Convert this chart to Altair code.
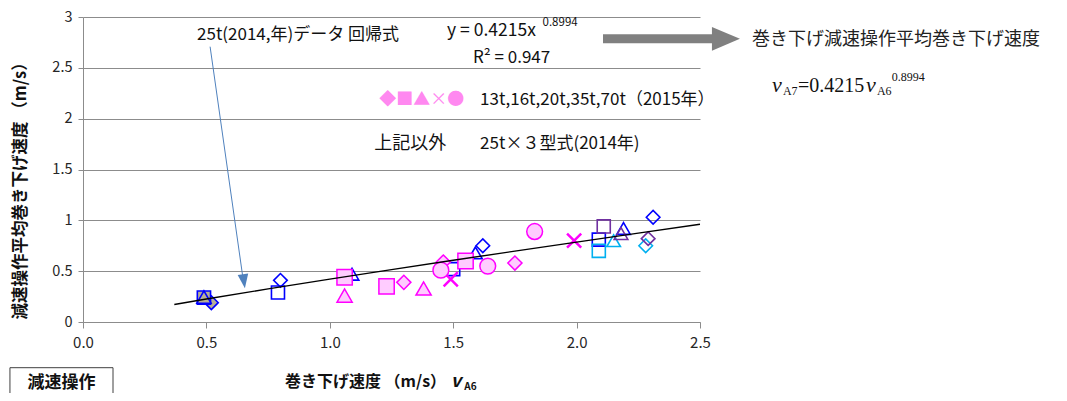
import altair as alt
import pandas as pd

# ---------------- data ----------------
# 25t x 3 models (2014) - three series (blue, light blue, purple) + overlapped tan points
tan_diamond_x = [0.52]
tan_diamond_y = [0.19]
tan_square_x = [0.49]
tan_square_y = [0.24]
tan_triangle_x = [0.49]
tan_triangle_y = [0.245]

blue_diamond_x = [0.80, 1.62, 2.31]
blue_diamond_y = [0.41, 0.75, 1.03]
blue_square_x = [0.79, 1.50, 2.09]
blue_square_y = [0.29, 0.52, 0.81]
blue_triangle_x = [1.09, 1.59, 2.19]
blue_triangle_y = [0.47, 0.68, 0.92]

cyan_diamond_x = [2.28]
cyan_diamond_y = [0.75]
cyan_square_x = [2.09]
cyan_square_y = [0.70]
cyan_triangle_x = [2.15]
cyan_triangle_y = [0.80]

purple_diamond_x = [2.29]
purple_diamond_y = [0.82]
purple_square_x = [2.11]
purple_square_y = [0.94]
purple_triangle_x = [2.18]
purple_triangle_y = [0.87]

# 13t,16t,20t,35t,70t (2015)
pink_diamond_x = [1.30, 1.46, 1.75]
pink_diamond_y = [0.39, 0.59, 0.58]
pink_square_x = [1.06, 1.23, 1.55]
pink_square_y = [0.44, 0.35, 0.60]
pink_triangle_x = [1.06, 1.38]
pink_triangle_y = [0.26, 0.33]
pink_cross_x = [1.49, 1.99]
pink_cross_y = [0.42, 0.80]
pink_circle_x = [1.45, 1.64, 1.83]
pink_circle_y = [0.51, 0.55, 0.89]

# regression y = a * x^b (as printed on the chart)
coef_a = 0.4215
coef_b = 0.8994
trend_x = [0.37, 0.5, 0.75, 1.0, 1.25, 1.5, 1.75, 2.0, 2.25, 2.5]

x_ticks = [0, 0.5, 1.0, 1.5, 2.0, 2.5]
y_ticks = [0, 0.5, 1.0, 1.5, 2.0, 2.5, 3.0]

# ---------------- build table ----------------
CROSS = "M-1,-1L1,1M-1,1L1,-1"
BLUE, CYAN, PURPLE, PINK, PINKFILL, TAN = "#0000FF", "#00B0F0", "#7030A0", "#FF00FF", "#FFCCFF", "#B8B095"
rows = []


def add(xs, ys, shape, stroke, fill, size, sw):
    for a, b in zip(xs, ys):
        rows.append(dict(x=a, y=b, shape=shape, stroke=stroke, fill=fill, size=size, sw=sw))


add(tan_diamond_x, tan_diamond_y, "diamond", BLUE, TAN, 190, 1.6)
add(tan_square_x, tan_square_y, "square", BLUE, TAN, 175, 1.6)
add(tan_triangle_x, tan_triangle_y, "triangle-up", BLUE, TAN, 200, 1.6)
for (xs, ys, shp) in [(blue_diamond_x, blue_diamond_y, "diamond"), (blue_square_x, blue_square_y, "square"),
                      (blue_triangle_x, blue_triangle_y, "triangle-up")]:
    add(xs, ys, shp, BLUE, "transparent", 185 if shp != "square" else 170, 1.6)
for (xs, ys, shp) in [(cyan_diamond_x, cyan_diamond_y, "diamond"), (cyan_square_x, cyan_square_y, "square"),
                      (cyan_triangle_x, cyan_triangle_y, "triangle-up")]:
    add(xs, ys, shp, CYAN, "transparent", 185 if shp != "square" else 170, 1.6)
for (xs, ys, shp) in [(purple_diamond_x, purple_diamond_y, "diamond"), (purple_square_x, purple_square_y, "square"),
                      (purple_triangle_x, purple_triangle_y, "triangle-up")]:
    add(xs, ys, shp, PURPLE, "transparent", 185 if shp != "square" else 170, 1.6)
add(pink_diamond_x, pink_diamond_y, "diamond", PINK, PINKFILL, 200, 1.5)
add(pink_square_x, pink_square_y, "square", PINK, PINKFILL, 235, 1.5)
add(pink_triangle_x, pink_triangle_y, "triangle-up", PINK, PINKFILL, 230, 1.5)
add(pink_cross_x, pink_cross_y, CROSS, PINK, "transparent", 200, 2.5)
add(pink_circle_x, pink_circle_y, "circle", PINK, PINKFILL, 250, 1.5)
df = pd.DataFrame(rows)

JP = "Noto Sans CJK JP"
GRAY = "#8c8c8c"
xs = alt.Scale(domain=[0, 2.5], nice=False, zero=False)
ys = alt.Scale(domain=[0, 3], nice=False, zero=False)

xaxis = alt.Axis(values=x_ticks, format=".1f", grid=False, title=None, domainColor=GRAY, tickColor=GRAY,
                 tickSize=6, labelFont=JP, labelFontSize=15, labelColor="#262626", labelPadding=7,
                 labelFlush=False)
yaxis = alt.Axis(values=y_ticks, format="~g", grid=True, gridColor=GRAY, gridWidth=1, title=None,
                 domainColor=GRAY, tickColor=GRAY, tickSize=5, labelFont=JP, labelFontSize=14.5,
                 labelColor="#262626", labelPadding=6, labelFlush=False)

points = alt.Chart(df).mark_point(opacity=1).encode(
    x=alt.X("x:Q", scale=xs, axis=xaxis),
    y=alt.Y("y:Q", scale=ys, axis=yaxis),
    shape=alt.Shape("shape:N", scale=None),
    stroke=alt.Stroke("stroke:N", scale=None),
    fill=alt.Fill("fill:N", scale=None),
    size=alt.Size("size:Q", scale=None),
    strokeWidth=alt.StrokeWidth("sw:Q", scale=None),
)

trend = alt.Chart(pd.DataFrame({"x": trend_x})).transform_calculate(
    y=f"{coef_a}*pow(datum.x,{coef_b})"
).mark_line(color="black", strokeWidth=1.4).encode(x="x:Q", y="y:Q")

ONE = pd.DataFrame({"k": [0]})


def label(text, x, y, size=15, font=JP, align="left", baseline="middle", **kw):
    return alt.Chart(ONE).mark_text(text=text, fontSize=size, font=font, align=align,
                                    baseline=baseline, **kw).encode(x=alt.datum(x), y=alt.datum(y))


def rule(x1, y1, x2, y2, **kw):
    return alt.Chart(ONE).mark_rule(**kw).encode(x=alt.datum(x1), y=alt.datum(y1),
                                                x2=alt.datum(x2), y2=alt.datum(y2))


def head(x, y, path, size, color, angle=0):
    return alt.Chart(ONE).mark_point(shape=path, size=size, filled=True, color=color, opacity=1,
                                     angle=angle).encode(x=alt.datum(x), y=alt.datum(y))


SERIF = "Liberation Serif"
layers = [
    points,
    trend,
    # thin blue arrow
    rule(0.515, 2.708, 0.650, 0.40, color="#4F81BD", strokeWidth=1),
    head(0.652, 0.40, "M-0.75,-1L0.75,-1L0,1Z", 200, "#4F81BD", angle=352),
    # big grey arrow
    rule(2.107, 2.785, 2.56, 2.785, color="#808080", strokeWidth=9, strokeCap="butt"),
    head(2.605, 2.785, "M-1,-0.85L1,0L-1,0.85Z", 784, "#808080"),
    # annotation texts
    label("25t(2014,年)データ 回帰式", 0.462, 2.824, 17, color="#111"),
    label("y = 0.4215x", 1.475, 2.86, 17.5, color="#111"),
    label("0.8994", 1.862, 2.94, 11.5, color="#111"),
    label("R² = 0.947", 1.580, 2.60, 17, color="#111"),
    label("◆■▲×●", 1.20, 2.18, 17, color="#FF88F0"),
    label("13t,16t,20t,35t,70t（2015年）", 1.609, 2.18, 17, color="#111"),
    label("上記以外", 1.18, 1.749, 18, color="#111"),
    label("25t×３型式(2014年)", 1.609, 1.749, 17, color="#111"),
    label("巻き下げ減速操作平均巻き下げ速度", 2.711, 2.775, 18, color="#222"),
    # v_A7 = 0.4215 v_A6 ^ 0.8994
    label("v", 2.792, 2.267, 22, font=SERIF, baseline="alphabetic", fontStyle="italic", color="#111"),
    label("A7", 2.836, 2.228, 12, font=SERIF, baseline="alphabetic", color="#111"),
    label("=0.4215", 2.897, 2.267, 20, font=SERIF, baseline="alphabetic", color="#111"),
    label("v", 3.173, 2.267, 22, font=SERIF, baseline="alphabetic", fontStyle="italic", color="#111"),
    label("A6", 3.217, 2.228, 12, font=SERIF, baseline="alphabetic", color="#111"),
    label("0.8994", 3.277, 2.375, 12, font=SERIF, baseline="alphabetic", color="#111"),
    # axis titles
    label("減速操作平均巻き下げ速度 （m/s）", -0.250, 1.329, 16.5, align="center", angle=270,
          fontWeight="bold", color="#111"),
    label("巻き下げ速度 （m/s）", 0.818, -0.586, 16, fontWeight="bold", color="#111"),
    label("v", 1.490, -0.586, 18, fontWeight="bold", fontStyle="italic", color="#111"),
    label("A6", 1.545, -0.64, 10, fontWeight="bold", color="#111"),
    # boxed label
    alt.Chart(ONE).mark_rect(fill="white", stroke="#404040", strokeWidth=1).encode(
        x=alt.datum(-0.296), x2=alt.datum(0.1216), y=alt.datum(-0.4495), y2=alt.datum(-0.83)),
    label("減速操作", -0.087, -0.60, 17, align="center", fontWeight="bold", color="#111"),
]

chart = alt.layer(*layers).properties(
    width=617, height=305,
    autosize=alt.AutoSizeParams(type="none"),
    padding={"left": 75, "top": 9, "right": 359, "bottom": 71},
).configure_view(stroke=None)

chart.save("out.html", embed_options={"renderer": "svg", "actions": False})
